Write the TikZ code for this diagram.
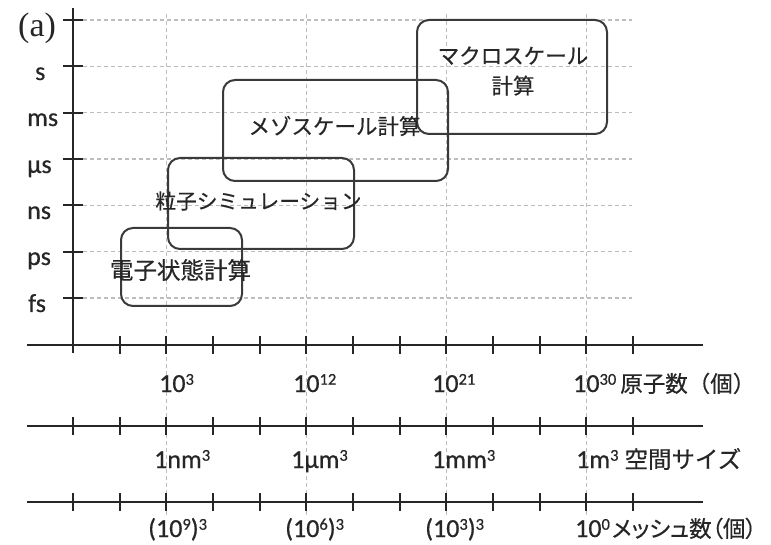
\documentclass[tikz,border=0pt]{standalone}
\usepackage{fontspec}
\setmainfont{Carlito}[FakeBold=0.6]
\newfontfamily\jpfont{Noto Sans CJK JP}[FakeBold=0.5]
\newfontfamily\jppfont{Noto Sans CJK JP}[RawFeature=+palt,FakeBold=0.5]
\newfontfamily\serifa{Liberation Serif}
\newcommand\spx[1]{\raisebox{0.28em}{\fontsize{16.5}{16.5}\selectfont #1}}
\definecolor{ink}{HTML}{262626}
\definecolor{boxline}{HTML}{3A3A3A}
\definecolor{gridgray}{HTML}{BDBDBD}
\begin{document}
\begin{tikzpicture}[x=1pt,y=-1pt,
  axisline/.style={draw=ink,line width=2pt},
  tickmark/.style={draw=ink,line width=2pt},
  gridline/.style={draw=gridgray,line width=1.2pt,dash pattern=on 4pt off 3pt},
  simbox/.style={draw=boxline,line width=2pt,rounded corners=12pt,inner sep=0pt,fill=none},
  jptext/.style={text=ink,font=\jpfont\fontsize{21.5}{30}\selectfont,inner sep=0pt,align=center},
  lattext/.style={text=ink,font=\fontsize{26}{30}\selectfont,inner sep=0pt,anchor=base west},
]
\useasboundingbox (0,0) rectangle (771,545);
% grid
\foreach \k in {0,...,6}{
  \draw[gridline] (83,{20+46.333*\k}) -- (632,{20+46.333*\k});
}
\foreach \k in {2,5,8,11}{
  \draw[gridline] ({73+46.667*\k},14) -- ({73+46.667*\k},515);
}
% axes
\coordinate (vtop) at (73,8);
\coordinate (vbot) at (73,353);
\draw[axisline] (vtop) -- (vbot);
\foreach \yy [count=\i] in {345,426,502}{
  \coordinate (al\i) at (27,\yy);
  \coordinate (ar\i) at (703,\yy);
  \draw[axisline] (al\i) -- (ar\i);
}
\foreach \k in {0,...,6}{
  \draw[tickmark] (63,{20+46.333*\k}) -- (83,{20+46.333*\k});
}
\foreach \k in {1,...,12}{
  \draw[tickmark] ({73+46.667*\k},336) -- ({73+46.667*\k},354);
}
\foreach \yy in {426,502}{
  \foreach \k in {0,...,12}{
    \draw[tickmark] ({73+46.667*\k},{\yy-9}) -- ({73+46.667*\k},{\yy+9});
  }
}
% left labels
\node[text=ink,font=\serifa\fontsize{34}{36}\selectfont,inner sep=0pt,anchor=base west] (lab) at (18,37) {(a)};
\node[lattext] (ts) at (35,80) {s};
\node[lattext] (tms) at (27,126) {ms};
\node[lattext] (tus) at (27,173) {µs};
\node[lattext] (tns) at (27,219) {ns};
\node[lattext] (tps) at (27,265) {ps};
\node[lattext] (tfs) at (28,312) {fs};
% axis labels
\node[lattext] (n1a) at (159,392) {10\spx{3}};
\node[lattext] (n1b) at (293,392) {10\spx{12}};
\node[lattext] (n1c) at (432,392) {10\spx{21}};
\node[lattext] (n1d) at (573,392) {10\spx{30}\hspace{4pt}{\jpfont\fontsize{22.5}{26}\selectfont 原子数（個）}};
\node[lattext] (n2a) at (154,468) {1nm\spx{3}};
\node[lattext] (n2b) at (291,468) {1µm\spx{3}};
\node[lattext] (n2c) at (432,468) {1mm\spx{3}};
\node[lattext] (n2d) at (576,468) {1m\spx{3}\hspace{6pt}{\jpfont\fontsize{23.5}{26}\selectfont 空間サイズ}};
\node[lattext] (n3a) at (148,537) {(10\spx{9})\spx{3}};
\node[lattext] (n3b) at (285,537) {(10\spx{6})\spx{3}};
\node[lattext] (n3c) at (425,537) {(10\spx{3})\spx{3}};
\node[lattext] (n3d) at (575,537) {10\spx{0}\hspace{2pt}{\jppfont\fontsize{22.5}{26}\selectfont メッシュ数（個）}};
% boxes
\node[simbox,minimum width=121pt,minimum height=78pt] (b1) at (181.5,267) {};
\node[simbox,minimum width=186pt,minimum height=91pt] (b2) at (261,203.5) {};
\node[simbox,minimum width=225pt,minimum height=101pt] (b3) at (335.5,130.5) {};
\node[simbox,minimum width=190pt,minimum height=114pt] (b4) at (512,77) {};
% box texts
\node[jptext,font=\jpfont\fontsize{23.5}{30}\selectfont] (t1) at (180.5,270) {電子状態計算};
\node[jptext,font=\jpfont\fontsize{20.7}{30}\selectfont] (t2) at (258.5,201) {粒子シミュレーション};
\node[jptext] (t3) at (334.5,126) {メゾスケール計算};
\node[jptext] (t4) at (513,71) {マクロスケール\\計算};
\end{tikzpicture}
\end{document}
